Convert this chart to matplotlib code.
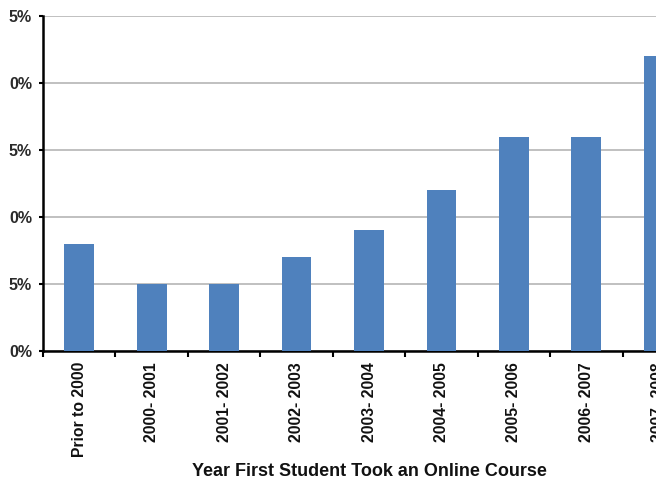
import numpy as np
import matplotlib.pyplot as plt
from matplotlib.ticker import FixedLocator

# data
categories = ["Prior to 2000", "2000- 2001", "2001- 2002", "2002- 2003", "2003- 2004",
              "2004- 2005", "2005- 2006", "2006- 2007", "2007- 2008"]
shares = [8, 5, 5, 7, 9, 12, 16, 16, 22]  # percent
y_ticks = [0, 5, 10, 15, 20, 25]
# the reference is cropped on the left, only the last digit of each label shows
y_labels = ["0%", "5%", "0%", "5%", "0%", "5%"]

plt.rcParams['font.family'] = ['Liberation Sans', 'DejaVu Sans']

fig = plt.figure(figsize=(6.56, 4.78), dpi=100)
# the original picture is a crop, so the axes run past the right edge
ax = fig.add_axes([43 / 656, 127 / 478, 652 / 656, 335 / 478])

x = np.arange(len(categories))
ax.bar(x, shares, width=0.41, color="#4F81BD", zorder=3)

ax.set_xlim(-0.5, len(categories) - 0.5)
ax.set_ylim(0, 25)
ax.set_yticks(y_ticks)
ax.set_yticklabels(y_labels, fontsize=11.5, fontweight="bold", color="#2a2a2a")
ax.grid(axis="y", color="#BBBBBB", linewidth=1.3, zorder=0)

ax.set_xticks(x)
ax.set_xticklabels(categories, rotation=90, fontsize=11.3, fontweight="bold", color="#111111")
ax.xaxis.set_minor_locator(FixedLocator(np.arange(len(categories) + 1) - 0.5))
ax.tick_params(axis="x", which="major", length=0, pad=8)
ax.tick_params(axis="x", which="minor", length=4, width=1.5, direction="out")
ax.tick_params(axis="y", length=3, width=1.5, direction="out", pad=5)

for s in ["top", "right"]:
    ax.spines[s].set_visible(False)
ax.spines["left"].set_linewidth(1.8)
ax.spines["bottom"].set_linewidth(1.8)

ax.set_xlabel("Year First Student Took an Online Course", fontsize=13, fontweight="bold",
              labelpad=4, color="#111111")

fig.savefig("out.png", dpi=100)
